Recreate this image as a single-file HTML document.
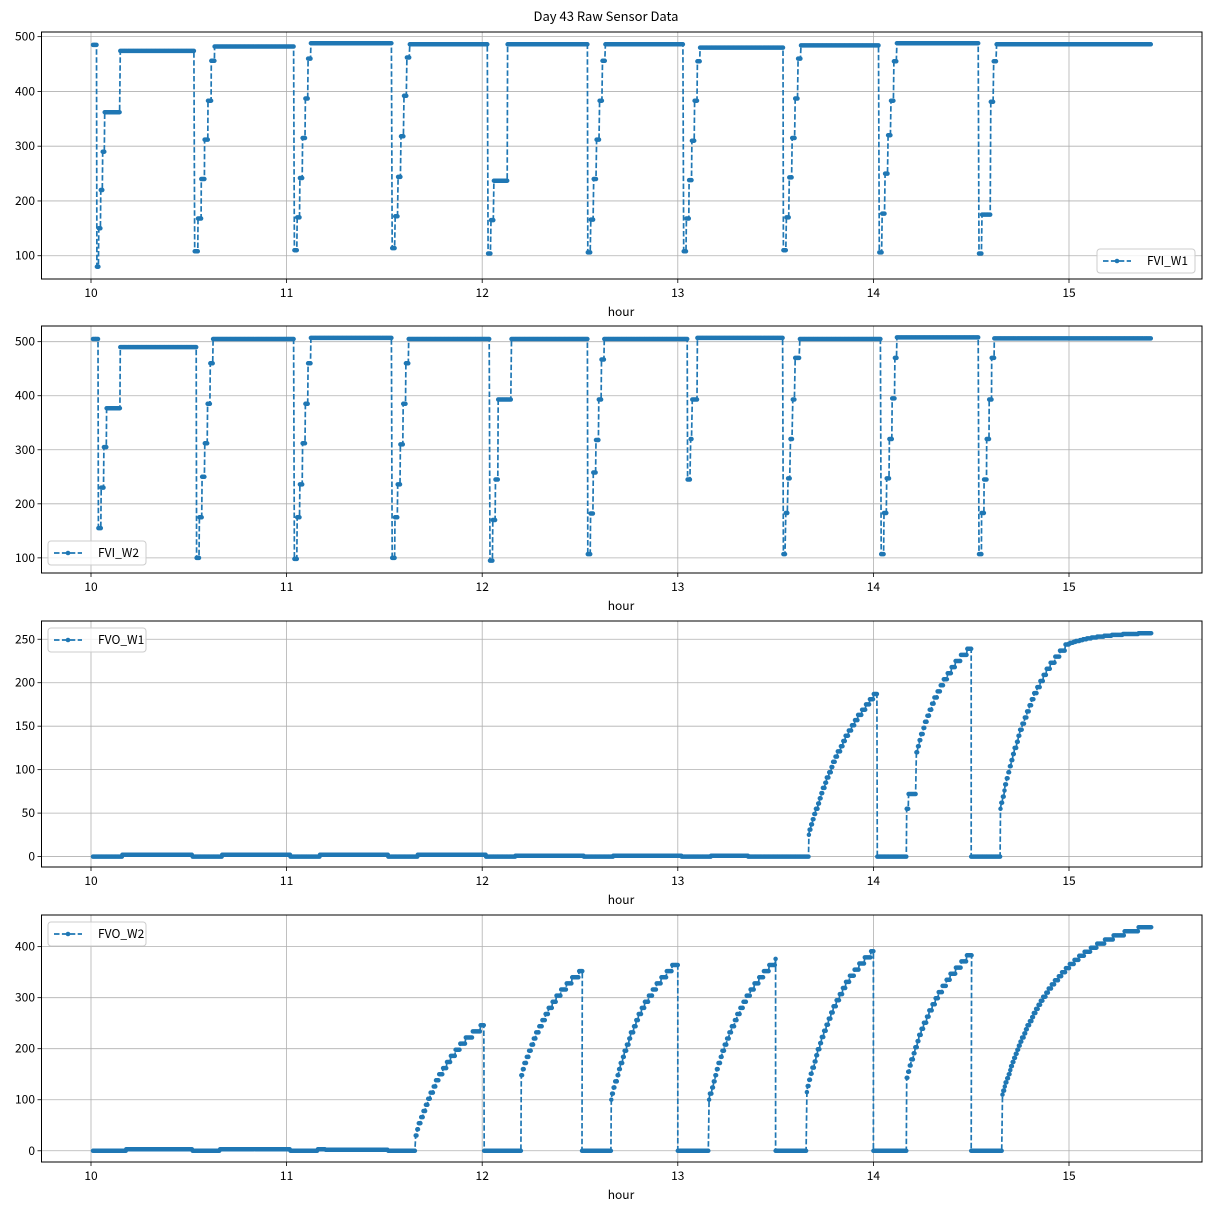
<!DOCTYPE html>
<html><head><meta charset="utf-8">
<style>
html,body{margin:0;padding:0;background:#fff;}
svg text{font-family:"Noto Sans CJK SC","WenQuanYi Zen Hei","Liberation Sans",sans-serif;font-size:12px;fill:#000;}
</style></head>
<body>
<svg id="s" width="1211" height="1211" xmlns="http://www.w3.org/2000/svg">
<rect width="1211" height="1211" fill="#fff"/>
<text x="606" y="21" text-anchor="middle" style="font-size:13px">Day 43 Raw Sensor Data</text>
</svg>
<script>
var NS="http://www.w3.org/2000/svg",S=document.getElementById('s');
function el(t,a,p){var e=document.createElementNS(NS,t);for(var k in a)e.setAttribute(k,a[k]);(p||S).appendChild(e);return e;}
function X(t){return 91+(t-10)*195.6;}
var axes=[
 {top:32,bot:279,lim:[57.5,508.5],ticks:[100,200,300,400,500],name:"FVI_W1",leg:"br"},
 {top:326,bot:573,lim:[72,529],ticks:[100,200,300,400,500],name:"FVI_W2",leg:"bl"},
 {top:621,bot:867,lim:[-12,271],ticks:[0,50,100,150,200,250],name:"FVO_W1",leg:"tl"},
 {top:915,bot:1162,lim:[-22,462],ticks:[0,100,200,300,400],name:"FVO_W2",leg:"tl"}];
var dt=0.004;
function genFVI(cyc,end){
 var d=[];
 for(var i=0;i<cyc.length;i++){
  var c=cyc[i],t=c.t0,sd=c.sd||0.02;
  for(var j=0;j<c.st.length;j++){
   for(var tt=0;tt<sd-1e-9;tt+=dt)d.push([t+tt,c.st[j]]);
   t+=sd;
  }
  var te=(i+1<cyc.length)?cyc[i+1].t0:end;
  for(;t<te-1e-9;t+=dt)d.push([t,c.pl]);
 }
 return d;
}
var f1=genFVI([
 {t0:10.01,st:[485,485,80,150,220,290],pl:362,sd:0.01},
],10.15).concat(genFVI([
 {t0:10.15,st:[],pl:474},
 {t0:10.53,st:[108,168,240,312,383,456],pl:482,sd:0.017},
 {t0:11.04,st:[110,170,242,315,387,460],pl:488,sd:0.014},
 {t0:11.54,st:[114,172,244,318,392,462],pl:486,sd:0.015},
 {t0:12.03,st:[104,165],pl:237,sd:0.015},
 {t0:12.13,st:[],pl:486},
 {t0:12.54,st:[106,166,240,312,383,456],pl:486,sd:0.015},
 {t0:13.03,st:[108,168,238,310,383,455],pl:480,sd:0.014},
 {t0:13.54,st:[110,170,243,315,387,460],pl:484,sd:0.015},
 {t0:14.03,st:[106,177,250,320,383,455],pl:488,sd:0.015},
 {t0:14.54,st:[104,175,175,175,381,455],pl:486,sd:0.015}],15.42));
var f2=genFVI([
 {t0:10.01,st:[505,505,155,230,305],pl:377,sd:0.014},
 {t0:10.15,st:[],pl:490},
 {t0:10.54,st:[100,175,250,312,385,460],pl:505,sd:0.014},
 {t0:11.04,st:[98,175,236,312,385,460],pl:507,sd:0.014},
 {t0:11.54,st:[100,175,236,310,385,460],pl:505,sd:0.014},
 {t0:12.04,st:[95,170,245],pl:393,sd:0.014},
 {t0:12.15,st:[],pl:505},
 {t0:12.54,st:[107,182,258,318,393,467],pl:505,sd:0.014},
 {t0:13.05,st:[245,245,320],pl:393,sd:0.008},
 {t0:13.1,st:[],pl:507},
 {t0:13.54,st:[107,183,247,320,393,470,470],pl:505,sd:0.012},
 {t0:14.04,st:[107,183,247,320,395],pl:470,sd:0.014},
 {t0:14.12,st:[],pl:508},
 {t0:14.54,st:[107,183,245,320,393,470],pl:506,sd:0.013}],15.42);
function ramp(d,t0,t1,a,b,k,step){
 var n=Math.round((t1-t0)/dt);
 for(var i=0;i<=n;i++){var s=i/n;var v=a+(b-a)*(1-Math.exp(-k*s))/(1-Math.exp(-k));
  if(step)v=a+Math.round((v-a)/step)*step;d.push([t0+i*dt,v]);}
}
function flat(d,t0,t1,v){for(var t=t0;t<t1-1e-9;t+=dt)d.push([t,v]);}
var f3=[];
[[10.01,10.16,0],[10.16,10.52,2],[10.52,10.67,0],[10.67,11.02,2],[11.02,11.17,0],[11.17,11.52,2],[11.52,11.67,0],[11.67,12.02,2],[12.02,12.17,0],[12.17,12.52,1],[12.52,12.67,0],[12.67,13.02,1],[13.02,13.17,0],[13.17,13.36,1],[13.36,13.67,0]].forEach(function(a){flat(f3,a[0],a[1],a[2]);});
ramp(f3,13.67,14.02,25,188,1.2,6);
flat(f3,14.02,14.17,0);flat(f3,14.17,14.18,55);flat(f3,14.18,14.22,72);
ramp(f3,14.22,14.5,120,240,1.5,7);
flat(f3,14.5,14.65,0);
ramp(f3,14.65,15.0,55,245,1.6,7);
ramp(f3,15.0,15.42,245,257,2.5,1);
var f4=[];
[[10.01,10.18,0],[10.18,10.52,3],[10.52,10.66,0],[10.66,11.02,3],[11.02,11.16,0],[11.16,11.2,3],[11.2,11.52,2],[11.52,11.66,0]].forEach(function(a){flat(f4,a[0],a[1],a[2]);});
ramp(f4,11.66,12.01,30,245,1.6,12);flat(f4,12.01,12.2,0);
ramp(f4,12.2,12.51,148,352,1.4,12);flat(f4,12.51,12.66,0);
ramp(f4,12.66,13.0,100,368,1.6,12);flat(f4,13.0,13.16,0);
ramp(f4,13.16,13.5,100,370,1.5,12);flat(f4,13.5,13.66,0);
ramp(f4,13.66,14.0,115,390,1.6,12);flat(f4,14.0,14.17,0);
ramp(f4,14.17,14.5,143,385,1.5,12);flat(f4,14.5,14.66,0);
ramp(f4,14.66,15.42,110,440,2.8,8);
var data=[f1,f2,f3,f4];
axes.forEach(function(a,i){
 function Y(v){return a.bot-(v-a.lim[0])*(a.bot-a.top)/(a.lim[1]-a.lim[0]);}
 var g=el('g',{});
 for(var h=10;h<=15;h++){var x=X(h);el('line',{x1:x,x2:x,y1:a.top,y2:a.bot,stroke:'#b0b0b0','stroke-width':0.8},g);
  el('line',{x1:x,x2:x,y1:a.bot,y2:a.bot+4,stroke:'#000','stroke-width':0.8},g);
  var tx=el('text',{x:x,y:a.bot+18,'text-anchor':'middle'},g);tx.textContent=h;}
 a.ticks.forEach(function(v){var y=Y(v);el('line',{x1:41.5,x2:1202,y1:y,y2:y,stroke:'#b0b0b0','stroke-width':0.8},g);
  el('line',{x1:37.5,x2:41.5,y1:y,y2:y,stroke:'#000','stroke-width':0.8},g);
  var tx=el('text',{x:35,y:y+4,'text-anchor':'end'},g);tx.textContent=v;});
 var hl=el('text',{x:621,y:a.bot+37,'text-anchor':'middle'},g);hl.textContent='hour';
 var d=data[i],p='',c='';
 d.forEach(function(q,j){var x=X(q[0]).toFixed(1),y=Y(q[1]).toFixed(1);p+=(j?'L':'M')+x+' '+y;c+='M'+x+' '+y+'h0';});
 el('path',{d:p,fill:'none',stroke:'#1f77b4','stroke-width':1.7,'stroke-dasharray':'5.5 2.4'},g);
 el('path',{d:c,fill:'none',stroke:'#1f77b4','stroke-width':4.5,'stroke-linecap':'round'},g);
 el('rect',{x:41.5,y:a.top,width:1160.5,height:a.bot-a.top,fill:'none',stroke:'#000','stroke-width':1},g);
 var lx,ly;
 if(a.leg=='br'){lx=1097;ly=a.bot-30;}else if(a.leg=='bl'){lx=48;ly=a.bot-32;}else{lx=48;ly=a.top+7;}
 el('rect',{x:lx,y:ly,width:98,height:24,rx:3,fill:'#fff','fill-opacity':0.8,stroke:'#ccc','stroke-width':1},g);
 el('line',{x1:lx+6,x2:lx+34,y1:ly+12,y2:ly+12,stroke:'#1f77b4','stroke-width':1.7,'stroke-dasharray':'5.5 2.4'},g);
 el('circle',{cx:lx+20,cy:ly+12,r:2.3,fill:'#1f77b4'},g);
 var lt=el('text',{x:lx+50,y:ly+16},g);lt.textContent=a.name;
});
</script>
</body></html>
